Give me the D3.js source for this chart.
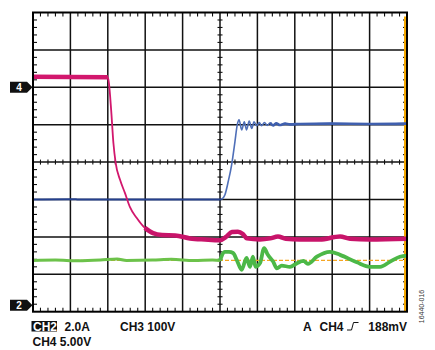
<!DOCTYPE html>
<html>
<head>
<meta charset="utf-8">
<script src="https://cdn.jsdelivr.net/npm/d3@7"></script>
<style>
  body { margin: 0; background: #fff; }
  svg { display: block; }
  text { font-family: 'Liberation Sans', Arial, sans-serif; }
</style>
</head>
<body>
<div id="chart"></div>
<script>
// scope trace readings, in divisions: [time div, vertical div from centre]
const magentaTrace = [
  [0, 2.28], [2.0, 2.27], [2.03, 2.11], [2.09, 1.39], [2.15, 0.51], [2.21, -0.02],
  [2.33, -0.48], [2.46, -0.83], [2.59, -1.20], [2.77, -1.49], [2.99, -1.76],
  [3.21, -1.90], [3.45, -1.95], [3.80, -1.96], [4.20, -2.04], [4.60, -2.07],
  [5.0, -2.09], [5.16, -2.0], [5.32, -1.87], [5.48, -1.86], [5.61, -1.92],
  [5.72, -2.04], [6.07, -2.07], [6.34, -2.04], [6.55, -1.99], [6.76, -2.05],
  [7.14, -2.07], [7.67, -2.07], [8.21, -1.99], [8.48, -2.05], [9.01, -2.07], [10, -2.05]
]
const blueTrace = [
  [0, -1.0], [1.1, -0.99], [1.2, -1.0], [5.0, -1.0], [5.05, -0.99], [5.13, -0.88],
  [5.22, -0.52], [5.31, -0.08], [5.40, 0.55], [5.46, 0.99], [5.51, 1.13], [5.58, 0.86],
  [5.65, 1.08], [5.71, 0.86], [5.78, 1.10], [5.85, 0.90], [5.91, 1.08], [5.98, 0.97],
  [6.05, 1.06], [6.11, 0.97], [6.19, 1.06], [6.26, 0.98], [6.34, 1.05], [6.42, 0.98],
  [6.50, 1.04], [6.60, 0.99], [6.74, 1.03], [6.87, 1.01], [7.14, 1.02], [7.94, 1.03],
  [9.01, 1.02], [10, 1.03]
]
const greenTrace = [
  [0, -2.63], [0.6, -2.62], [1.2, -2.64], [1.8, -2.62], [2.25, -2.59], [2.5, -2.63],
  [3.2, -2.62], [3.7, -2.60], [4.3, -2.63], [4.8, -2.62],
  [5.0, -2.63], [5.13, -2.40], [5.24, -2.40], [5.35, -2.43], [5.45, -2.62], [5.58, -2.88],
  [5.71, -2.56], [5.80, -2.80], [5.88, -2.53], [5.95, -2.80], [6.07, -2.70], [6.18, -2.30],
  [6.28, -2.48], [6.42, -2.66], [6.52, -2.84], [6.65, -2.77], [6.87, -2.80], [7.05, -2.71],
  [7.23, -2.64], [7.35, -2.72], [7.59, -2.53], [7.94, -2.40], [8.21, -2.48], [8.66, -2.68],
  [9.01, -2.80], [9.28, -2.80], [9.55, -2.66], [9.81, -2.53], [10, -2.50]
]
const triggerLevel = -2.63
const channelMarkers = [{ label: '4', level: 2.0 }, { label: '2', level: -3.83 }]
const scaleRow1 = ['2.0A', 'CH3 100V']
const scaleRow2 = 'CH4 5.00V'
const triggerText = ['A', 'CH4', '188mV']
const figureId = '16440-016'

const width = 435
const height = 350
const plot = { left: 33, right: 407, top: 12.5, bottom: 311.7 }

const x = d3.scaleLinear().domain([0, 10]).range([plot.left, plot.right])
const y = d3.scaleLinear().domain([-4, 4]).range([plot.bottom, plot.top])

const svg = d3.select('#chart').append('svg')
  .attr('width', width)
  .attr('height', height)

// graticule
const grid = svg.append('g')
grid.selectAll('.vline').data(d3.range(1, 10)).enter().append('line')
  .attr('x1', d => x(d)).attr('x2', d => x(d))
  .attr('y1', plot.top).attr('y2', plot.bottom)
  .attr('stroke', '#111').attr('stroke-width', 1.5)
grid.selectAll('.hline').data(d3.range(-3, 4)).enter().append('line')
  .attr('x1', plot.left).attr('x2', plot.right)
  .attr('y1', d => y(d)).attr('y2', d => y(d))
  .attr('stroke', '#111').attr('stroke-width', 1.5)

// minor ticks, 5 per division
const xMinor = d3.range(0, 50).filter(i => i % 5).map(i => i / 5)
const yMinor = d3.range(-20, 20).filter(i => i % 5).map(i => i / 5)
const tick = (x1, y1, x2, y2) => grid.append('line')
  .attr('x1', x1).attr('y1', y1).attr('x2', x2).attr('y2', y2)
  .attr('stroke', '#111').attr('stroke-width', 1.1)
xMinor.forEach(t => {
  tick(x(t), plot.top, x(t), plot.top + 4)
  tick(x(t), plot.bottom, x(t), plot.bottom - 4)
  tick(x(t), y(0) - 2.5, x(t), y(0) + 2.5)
})
yMinor.forEach(v => {
  tick(plot.left, y(v), plot.left + 4, y(v))
  tick(plot.right, y(v), plot.right - 4, y(v))
  tick(x(5) - 2.5, y(v), x(5) + 2.5, y(v))
})

// trigger level and right edge marker
svg.append('line')
  .attr('x1', plot.left).attr('x2', plot.right)
  .attr('y1', y(triggerLevel)).attr('y2', y(triggerLevel))
  .attr('stroke', '#f5a623').attr('stroke-width', 1.2)
  .attr('stroke-dasharray', '4,2')
svg.append('line')
  .attr('x1', plot.right - 2).attr('x2', plot.right - 2)
  .attr('y1', plot.top + 4).attr('y2', plot.bottom)
  .attr('stroke', '#f5a800').attr('stroke-width', 2)

const line = d3.line()
  .x(d => x(d[0]))
  .y(d => y(d[1]))
  .curve(d3.curveMonotoneX)

// green
svg.append('path')
  .attr('d', line(greenTrace.filter(d => d[0] <= 5)))
  .attr('fill', 'none').attr('stroke', '#6cc24a').attr('stroke-width', 3)
svg.append('path')
  .attr('d', line(greenTrace.filter(d => d[0] >= 5)))
  .attr('fill', 'none').attr('stroke', '#4cb847').attr('stroke-width', 3.8)

// blue
svg.append('path')
  .attr('d', line(blueTrace.filter(d => d[0] <= 5.05)))
  .attr('fill', 'none').attr('stroke', '#24408e').attr('stroke-width', 2)
svg.append('path')
  .attr('d', line(blueTrace.filter(d => d[0] >= 5.05)))
  .attr('fill', 'none').attr('stroke', '#4f6fb8').attr('stroke-width', 1.6)
svg.append('path')
  .attr('d', line(blueTrace.filter(d => d[0] >= 6.3)))
  .attr('fill', 'none').attr('stroke', '#3f5fae').attr('stroke-width', 2.6)

// magenta
svg.append('path')
  .attr('d', line(magentaTrace))
  .attr('fill', 'none').attr('stroke', '#d2176d').attr('stroke-width', 1.8)
svg.append('path')
  .attr('d', line(magentaTrace.filter(d => d[0] <= 2.0)))
  .attr('fill', 'none').attr('stroke', '#d2176d').attr('stroke-width', 4.5)
svg.append('path')
  .attr('d', line(magentaTrace.filter(d => d[0] >= 2.9)))
  .attr('fill', 'none').attr('stroke', '#c8146a').attr('stroke-width', 4.5)

// frame
svg.append('rect')
  .attr('x', plot.left).attr('y', plot.top)
  .attr('width', plot.right - plot.left).attr('height', plot.bottom - plot.top)
  .attr('fill', 'none').attr('stroke', '#000').attr('stroke-width', 2)

// channel ground markers
const markers = svg.selectAll('.marker').data(channelMarkers).enter().append('g')
  .attr('transform', d => `translate(0,${y(d.level)})`)
markers.append('path')
  .attr('d', 'M10,-5.5 L27,-5.5 L32.5,0 L27,5.5 L10,5.5 Z')
  .attr('fill', '#111')
markers.append('text')
  .attr('x', 19).attr('y', 4)
  .attr('text-anchor', 'middle')
  .attr('fill', '#fff')
  .attr('font-size', 10).attr('font-weight', 'bold')
  .text(d => d.label)

// scale readouts
const label = (tx, ty, s, fill) => svg.append('text')
  .attr('x', tx).attr('y', ty)
  .attr('fill', fill || '#111').attr('font-size', 12).attr('font-weight', 'bold')
  .text(s)
svg.append('rect')
  .attr('x', 31.5).attr('y', 321).attr('width', 25.5).attr('height', 10.5)
  .attr('fill', '#111')
label(33, 330.5, 'CH2', '#fff')
label(64.5, 330.5, scaleRow1[0])
label(120, 330.5, scaleRow1[1])
label(32.5, 346, scaleRow2)

// trigger readout
label(303, 330.5, triggerText[0])
label(319.5, 330.5, triggerText[1])
svg.append('path')
  .attr('d', 'M347,330 L351.5,330 L353.5,322.5 L358.5,322.5')
  .attr('fill', 'none').attr('stroke', '#111').attr('stroke-width', 1)
label(407, 330.5, triggerText[2])
  .attr('text-anchor', 'end')

svg.append('text')
  .attr('transform', 'translate(423.5,306.5) rotate(-90)')
  .attr('text-anchor', 'middle')
  .attr('fill', '#333').attr('font-size', 7)
  .text(figureId)
</script>
</body>
</html>
